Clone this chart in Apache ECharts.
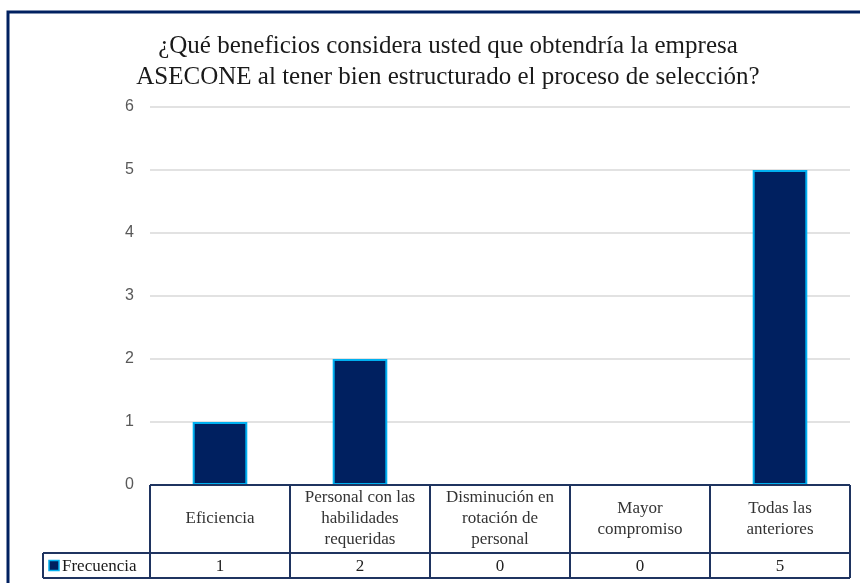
<!DOCTYPE html>
<html>
<head>
<meta charset="utf-8">
<script src="https://cdn.jsdelivr.net/npm/echarts@6/dist/echarts.min.js"></script>
<style>
  html, body { margin: 0; padding: 0; background: #ffffff; }
  #chart { width: 860px; height: 583px; }
</style>
</head>
<body>
<div id="chart"></div>
<script>
// Survey answers: benefits of a well-structured selection process
const titleLines = [
  '¿Qué beneficios considera usted que obtendría la empresa',
  'ASECONE al tener bien estructurado el proceso de selección?'
];
const categories = [
  'Eficiencia',
  'Personal con las\nhabilidades\nrequeridas',
  'Disminución en\nrotación de\npersonal',
  'Mayor\ncompromiso',
  'Todas las\nanteriores'
];
const seriesName = 'Frecuencia';
const frecuencia = [1, 2, 0, 0, 5];
const yTicks = [0, 1, 2, 3, 4, 5, 6];

const NAVY = '#002060';
const CYAN = '#00B0F0';
const LINE = '#1F3460';
const SERIF = 'Liberation Serif';
const SANS = 'Liberation Sans';
const TABLE_FONT = 17;

const chart = echarts.init(document.getElementById('chart'), null, { renderer: 'canvas' });

const option = {
  animation: false,
  backgroundColor: '#ffffff',
  textStyle: { fontFamily: SERIF },
  title: {
    text: titleLines.join('\n'),
    left: 443,
    textAlign: 'center',
    top: 26,
    textStyle: {
      fontFamily: SERIF,
      fontWeight: 'normal',
      fontSize: 25,
      lineHeight: 31,
      color: '#1a1a1a'
    }
  },
  grid: { left: 150, right: 10, top: 107, bottom: 98 },
  xAxis: {
    type: 'category',
    data: categories,
    axisLine: { show: false },
    axisTick: { show: false },
    axisLabel: {
      interval: 0,
      margin: 34,
      verticalAlign: 'middle',
      fontFamily: SERIF,
      fontSize: TABLE_FONT,
      lineHeight: 21,
      color: '#333333'
    }
  },
  yAxis: {
    type: 'value',
    min: yTicks[0],
    max: yTicks[yTicks.length - 1],
    interval: 1,
    axisLine: { show: false },
    axisTick: { show: false },
    axisLabel: {
      margin: 16,
      fontFamily: SANS,
      fontSize: 16,
      color: '#595959'
    },
    splitLine: { lineStyle: { color: '#d9d9d9', width: 1.5 } }
  },
  series: [{
    name: seriesName,
    type: 'bar',
    data: frecuencia,
    barWidth: '39%',
    itemStyle: { color: NAVY, borderColor: CYAN, borderWidth: 2 }
  }]
};
chart.setOption(option);

// Data table under the plot, laid out from the axis scales
function buildTable() {
  const c0 = chart.convertToPixel({ xAxisIndex: 0 }, 0);
  const c1 = chart.convertToPixel({ xAxisIndex: 0 }, 1);
  const band = c1 - c0;
  const xStart = c0 - band / 2;
  const xEnd = xStart + band * categories.length;
  const y0 = chart.convertToPixel({ yAxisIndex: 0 }, 0);
  const y1 = y0 + 68;
  const y2 = y1 + 25;
  const legendLeft = 43;

  const els = [];
  const line = (x1, ya, x2, yb) => els.push({
    type: 'line',
    shape: { x1: x1, y1: ya, x2: x2, y2: yb },
    style: { stroke: LINE, lineWidth: 2 },
    z: 10
  });

  line(xStart, y0, xEnd, y0);
  line(legendLeft, y1, xEnd, y1);
  line(legendLeft, y2, xEnd, y2);
  line(legendLeft, y1, legendLeft, y2);
  for (let i = 0; i <= categories.length; i++) {
    const x = xStart + band * i;
    line(x, y0, x, y2);
  }

  frecuencia.forEach((v, i) => {
    els.push({
      type: 'text',
      x: c0 + band * i,
      y: (y1 + y2) / 2 + 1,
      style: {
        text: String(v),
        fontFamily: SERIF,
        fontSize: TABLE_FONT,
        fill: '#222222',
        align: 'center',
        verticalAlign: 'middle'
      },
      z: 10
    });
  });

  // legend key in the table's row header
  els.push({
    type: 'rect',
    shape: { x: legendLeft + 6, y: (y1 + y2) / 2 - 5, width: 10, height: 10 },
    style: { fill: NAVY, stroke: CYAN, lineWidth: 1.5 },
    z: 10
  });
  els.push({
    type: 'text',
    x: legendLeft + 19,
    y: (y1 + y2) / 2 + 1,
    style: {
      text: seriesName,
      fontFamily: SERIF,
      fontSize: TABLE_FONT,
      fill: '#1a1a1a',
      align: 'left',
      verticalAlign: 'middle'
    },
    z: 10
  });

  // chart frame
  els.push({
    type: 'rect',
    shape: { x: 8, y: 12, width: 900, height: 620 },
    style: { fill: 'none', stroke: NAVY, lineWidth: 3 },
    z: 20
  });

  chart.setOption({ graphic: els });
}
buildTable();
</script>
</body>
</html>
